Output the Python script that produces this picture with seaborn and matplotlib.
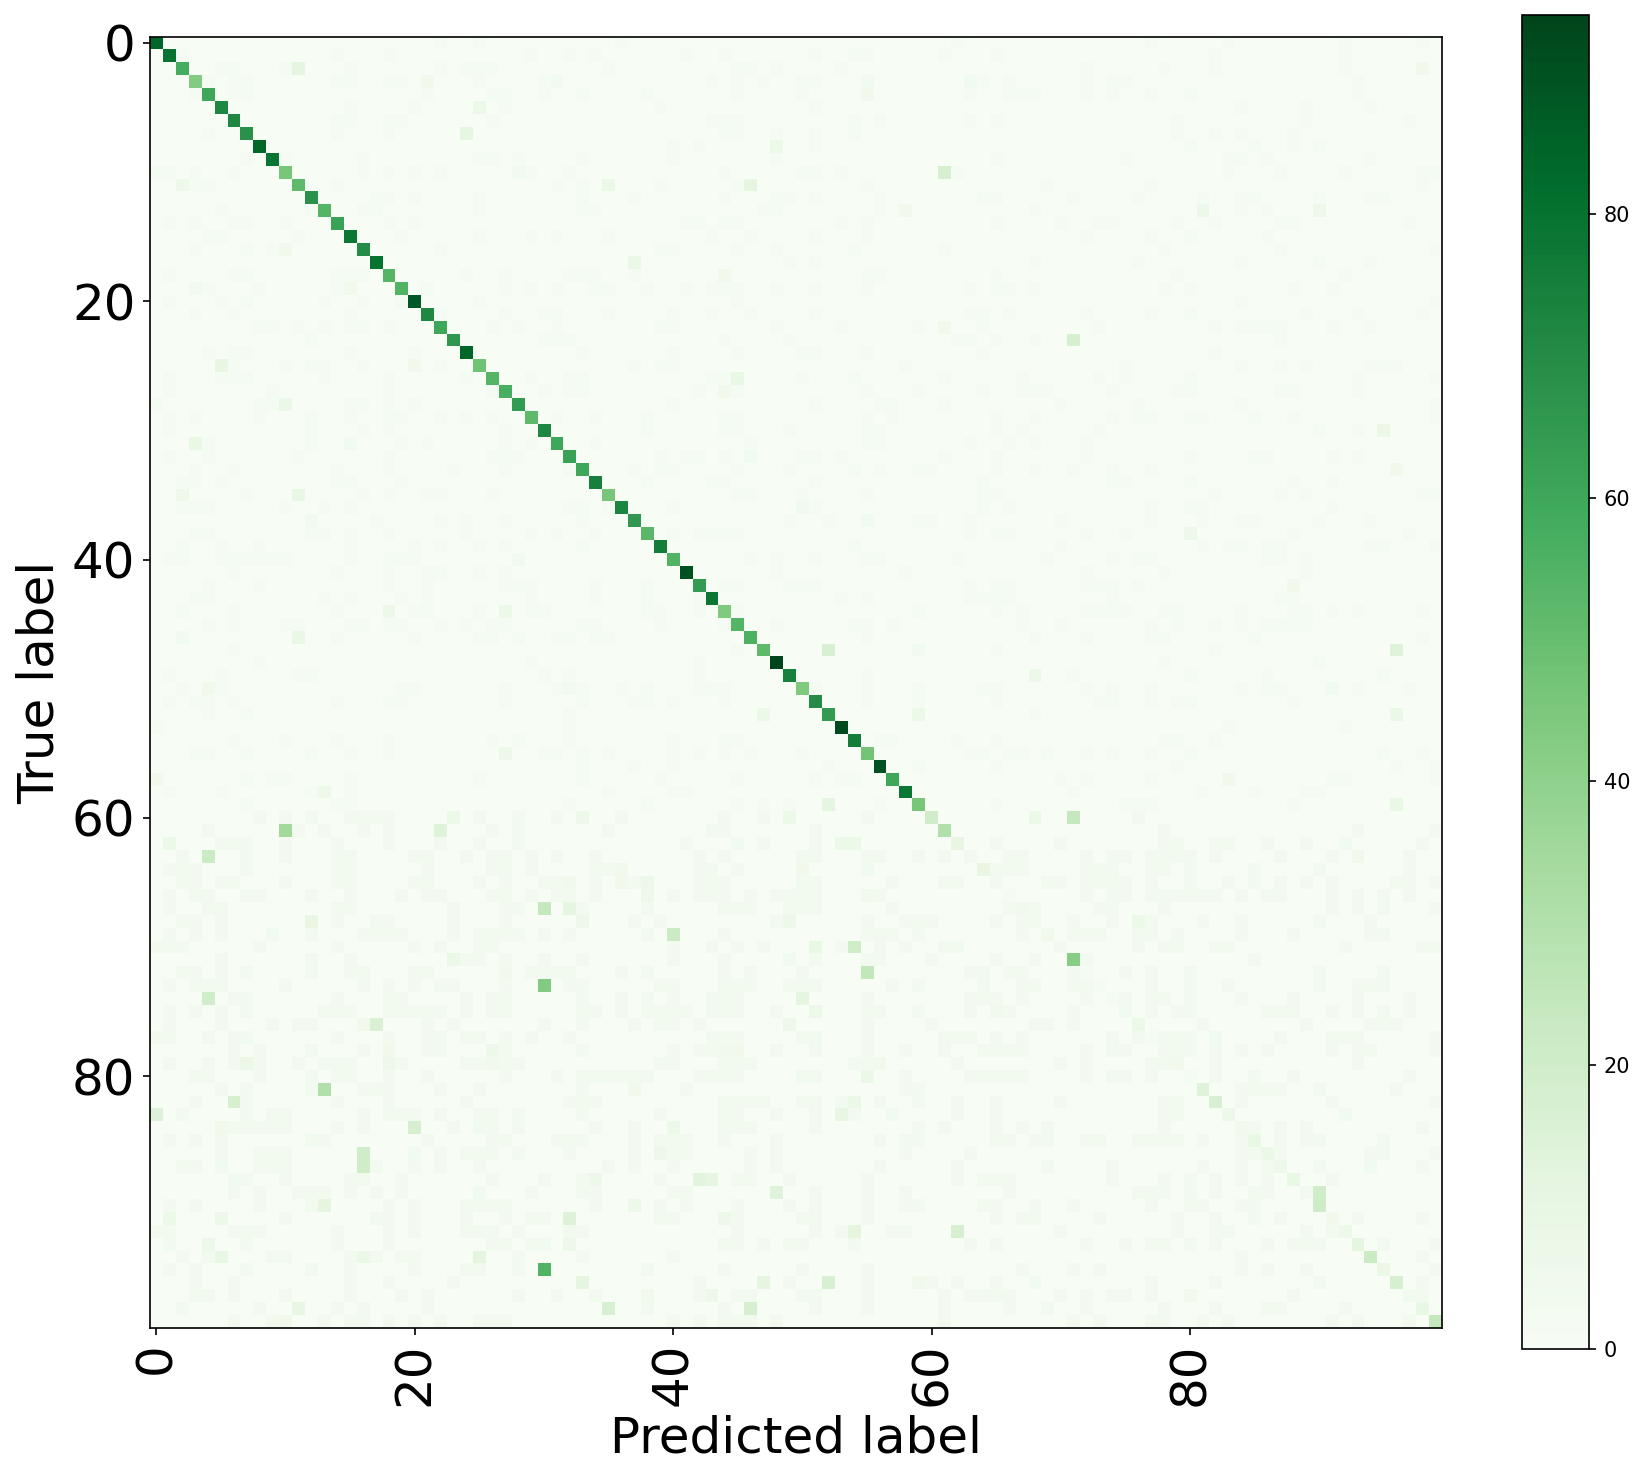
import numpy as np
import pandas as pd
import matplotlib
matplotlib.use("Agg")
import matplotlib.pyplot as plt
import seaborn as sns

N_CLASSES = 100
TICK_LABELS = [0, 20, 40, 60, 80]
CBAR_TICKS = [0, 20, 40, 60, 80]
MAX_COUNT = 94
FAINT_UPPER = 2
FAINT_LOWER = 3
LOWER_FROM_ROW = 60

# correct predictions, one per class
diagonal = [84, 80, 58, 43, 60, 72, 72, 68, 83, 79,
            46, 52, 68, 54, 62, 78, 70, 80, 54, 55,
            88, 72, 60, 66, 84, 48, 54, 57, 64, 52,
            72, 60, 62, 60, 75, 46, 73, 66, 53, 76,
            55, 90, 64, 78, 44, 54, 56, 52, 94, 74,
            44, 70, 64, 92, 76, 47, 90, 60, 78, 46,
            20, 30, 10, 3, 10, 3, 2, 5, 4, 5,
            3, 42, 2, 2, 2, 4, 7, 2, 3, 5,
            2, 14, 17, 6, 5, 9, 8, 6, 9, 3,
            21, 5, 6, 12, 22, 8, 18, 4, 9, 24]

# the clearly visible confusions
off_rows = [2, 3, 3, 5, 7, 10, 11, 16, 19, 19, 25, 25, 28, 31, 31,
            3, 3, 4, 8, 10, 11, 11, 13, 17, 18, 22, 26, 27, 32, 2, 13, 13, 23, 30, 33,
            35, 35, 37, 40, 44, 44, 46, 46, 50, 50, 55, 57, 58, 60, 60, 61, 61, 62, 63, 65,
            36, 37, 47, 47, 52, 52, 59, 60, 60, 62, 62, 62, 64, 64, 64, 65, 65, 65, 66, 66,
            38, 42, 47, 49, 50, 52, 57, 59, 60, 60, 62, 63,
            67, 67, 68, 69, 71, 72, 73, 74, 76, 76, 77, 78, 78, 79, 79, 79, 81, 81, 82, 83,
            84, 84, 84, 85, 86, 86, 87, 87, 88, 89, 90, 91, 91, 91, 93, 93, 93, 93, 94, 94, 94,
            95, 96, 97, 98, 99,
            68, 68, 69, 70, 70, 70, 71, 72, 73, 74, 75, 75, 76, 77, 78, 78, 79, 80, 80, 80,
            81, 82, 82, 83, 83, 84, 85, 86, 88, 88, 88, 89, 90, 91, 92, 92, 96, 96, 96, 97, 97,
            98, 98, 68, 77, 77, 83, 87, 96, 97, 89, 89]
off_cols = [11, 21, 31, 25, 24, 28, 2, 10, 3, 15, 5, 20, 10, 3, 15,
            55, 63, 55, 48, 61, 35, 46, 58, 37, 44, 61, 45, 44, 46, 98, 81, 90, 71, 95, 96,
            2, 11, 12, 28, 18, 27, 2, 11, 4, 32, 27, 0, 13, 23, 33, 10, 22, 1, 4, 32,
            50, 55, 52, 59, 47, 59, 52, 33, 49, 45, 53, 54, 36, 50, 55, 36, 38, 50, 38, 55,
            80, 88, 96, 68, 91, 96, 83, 96, 68, 71, 92, 93,
            30, 32, 12, 9, 23, 27, 30, 4, 16, 17, 7, 18, 26, 7, 18, 26, 12, 13, 6, 0,
            5, 20, 25, 12, 16, 20, 5, 16, 6, 25, 13, 1, 5, 32, 1, 4, 30, 32, 5, 16, 25,
            30, 33, 3, 11, 10,
            33, 49, 40, 51, 54, 62, 49, 55, 44, 50, 51, 65, 49, 51, 44, 45, 56, 34, 50, 55,
            37, 53, 54, 53, 57, 40, 58, 39, 34, 42, 43, 48, 37, 44, 54, 62, 47, 52, 59, 38, 43,
            35, 46, 76, 79, 82, 92, 94, 68, 80, 85, 90]
off_vals = [12, 5, 4, 7, 11, 4, 6, 5, 4, 5, 10, 5, 8, 9, 4,
            4, 4, 5, 7, 18, 8, 12, 5, 8, 5, 5, 9, 5, 4, 5, 6, 6, 18, 8, 5,
            6, 9, 4, 4, 6, 7, 4, 9, 5, 4, 6, 5, 6, 7, 6, 35, 14, 7, 22, 5,
            4, 4, 17, 4, 7, 7, 12, 6, 7, 4, 7, 7, 5, 5, 4, 5, 6, 4, 6, 5,
            6, 5, 14, 6, 4, 8, 5, 9, 7, 24, 4, 5,
            24, 12, 10, 4, 8, 5, 43, 20, 5, 16, 4, 5, 6, 8, 6, 5, 4, 30, 18, 15,
            5, 18, 4, 4, 20, 4, 4, 20, 4, 4, 12, 7, 6, 15, 4, 6, 4, 6, 9, 8, 12,
            55, 12, 4, 10, 5,
            6, 6, 22, 9, 20, 4, 4, 25, 4, 12, 7, 5, 6, 4, 5, 5, 5, 4, 4, 8,
            5, 4, 8, 10, 4, 6, 4, 6, 6, 13, 11, 14, 6, 6, 12, 18, 12, 17, 5, 5, 6,
            17, 18, 7, 4, 4, 4, 4, 4, 5, 4, 20]

# the pale background counts, row -> predicted classes
faint_cells = {
    0: [22, 25, 36, 62, 77, 83, 92, 98],
    1: [2, 14, 18, 29, 32, 34, 41, 44, 51, 54, 55, 61, 65, 82, 92],
    2: [5, 6, 10, 15, 22, 24, 25, 26, 35, 45, 46, 48, 53, 72, 78, 82, 92],
    3: [4, 6, 7, 14, 15, 18, 19, 25, 30, 43, 45, 47, 50, 51, 64, 66, 72, 74, 75, 93],
    4: [3, 6, 7, 21, 26, 27, 30, 33, 38, 45, 50, 63, 66, 67, 68, 72, 74, 77, 80, 93],
    5: [15, 20, 27, 39, 51, 84, 89, 94],
    6: [14, 15, 18, 19, 26, 43, 44, 45, 54, 56, 63, 65, 79, 89, 97],
    7: [4, 14, 18, 44, 45, 48, 51, 54, 79, 82, 84, 88],
    8: [40, 42, 51, 80, 85, 88, 90],
    9: [7, 10, 16, 25, 26, 28, 33, 40, 48, 65, 75, 83, 84, 86, 94],
    10: [0, 1, 3, 6, 16, 18, 20, 22, 29, 32, 44, 50, 51, 53, 62, 83, 87, 92, 98, 99],
    11: [3, 4, 14, 31, 33, 39, 45, 55, 69, 77, 98],
    12: [17, 18, 20, 25, 33, 37, 44, 48, 49, 51, 56, 64, 65, 71, 76, 81, 84, 85, 90, 94, 95],
    13: [5, 12, 16, 17, 25, 33, 34, 47, 48, 56, 68, 84, 86],
    14: [1, 3, 6, 7, 10, 18, 20, 41, 42, 44, 45, 53, 55, 65, 70, 73, 74, 79, 82, 87, 88, 97],
    15: [4, 5, 11, 19, 25, 29, 31, 35, 43, 46, 51, 55, 72, 77, 80, 86],
    16: [3, 7, 9, 22, 39, 40, 45, 48, 54, 61, 78, 87, 99],
    17: [49, 51, 68, 76, 84, 90, 94],
    18: [1, 6, 7, 14, 15, 16, 24, 27, 32, 33, 34, 37, 55, 56, 65, 79, 92],
    19: [4, 8, 14, 21, 27, 29, 31, 34, 35, 38, 41, 43, 44, 45, 48, 51, 55, 63, 65, 66, 68, 78, 80, 88, 91],
    20: [1, 5, 7, 13, 16, 19, 25, 45, 84, 99],
    21: [3, 6, 15, 22, 27, 30, 31, 35, 40, 43, 46, 51, 63, 64, 66, 72, 77, 80, 89, 93, 98],
    22: [8, 9, 11, 13, 15, 16, 18, 26, 28, 31, 39, 40, 48, 53, 59, 64, 73, 82, 84, 85, 86, 87, 91, 94],
    23: [12, 30, 31, 32, 44, 49, 62, 63, 65, 68, 87],
    24: [4, 6, 7, 15, 20, 33, 40, 45, 50, 51, 55, 64, 82],
    25: [6, 10, 12, 13, 16, 22, 37, 39, 40, 58, 75, 84, 87, 89, 94, 95, 96],
    26: [1, 5, 6, 7, 13, 18, 24, 29, 32, 33, 43, 44, 50, 54, 61, 67, 73, 75, 80, 93, 99],
    27: [1, 9, 18, 26, 30, 32, 33, 42, 45, 55, 59, 64, 67, 68, 69, 74, 79, 80, 87, 88, 93],
    28: [0, 8, 9, 15, 16, 18, 20, 40, 51, 56, 57, 61, 70, 76, 84, 99],
    29: [1, 3, 8, 12, 15, 18, 19, 22, 24, 26, 31, 34, 38, 44, 45, 55, 57, 65, 68, 74, 76, 77, 80, 81, 85, 88, 99],
    30: [1, 12, 16, 18, 27, 38, 44, 45, 49, 55, 56, 65, 67, 73, 90, 93],
    31: [4, 12, 19, 21, 27, 29, 34, 46, 55, 56, 63, 66, 68, 72],
    32: [1, 4, 11, 18, 26, 27, 28, 39, 41, 42, 44, 50, 51, 53, 61, 65, 72, 80, 85, 86, 91, 93],
    33: [3, 6, 14, 18, 23, 27, 32, 37, 39, 40, 45, 49, 54, 56, 59, 60, 65, 68, 71, 74, 77],
    34: [2, 3, 5, 14, 15, 19, 38, 43, 44, 51, 64, 74, 75, 80, 88, 91],
    35: [7, 16, 18, 21, 22, 26, 45, 46, 50, 55, 64, 65, 82, 87, 89, 98, 99],
    36: [2, 3, 4, 10, 13, 15, 32, 33, 35, 40, 51, 64, 66, 77, 80, 81, 91],
    37: [17, 22, 24, 27, 33, 49, 52, 59, 60, 63, 70, 77, 81, 84, 85, 90, 94],
    38: [3, 4, 12, 13, 15, 18, 24, 29, 31, 34, 40, 42, 43, 44, 45, 63, 65, 66, 72, 75, 88, 97],
    39: [2, 5, 8, 15, 20, 22, 25, 27, 33, 54, 70, 81, 83, 84, 86, 87, 94, 95, 99],
    40: [1, 2, 5, 6, 7, 8, 9, 10, 15, 18, 19, 20, 46, 48, 51, 55, 56, 62, 69, 74, 76, 77, 86, 87, 89],
    41: [6, 14, 18, 21, 22, 25, 27, 48, 58, 72, 78, 89],
    42: [4, 8, 18, 21, 27, 28, 29, 34, 38, 44, 45, 49, 50, 51, 63, 65, 66, 72, 73, 74, 76],
    43: [3, 4, 13, 15, 19, 21, 29, 34, 38, 42, 53, 55, 63, 64, 65, 66, 74, 87, 88],
    44: [2, 6, 14, 20, 21, 25, 29, 30, 38, 39, 42, 45, 59, 65, 67, 72, 73, 74, 75, 78, 79, 84, 88, 89, 91, 93, 98],
    45: [4, 6, 10, 11, 15, 16, 18, 19, 22, 24, 26, 27, 33, 34, 39, 44, 48, 54, 55, 57, 67, 70, 77, 79, 82, 84, 86, 87, 88, 89],
    46: [14, 20, 25, 26, 28, 31, 32, 34, 35, 55, 68, 72, 77, 78, 85, 98],
    47: [6, 45, 65, 82],
    48: [8, 29, 42, 78, 90],
    49: [1, 5, 11, 12, 30, 32, 42, 55, 71, 80, 86, 95],
    50: [2, 5, 19, 20, 27, 31, 33, 36, 38, 42, 43, 44, 51, 55, 59, 64, 65, 72, 74, 77, 84, 86, 87, 93, 97],
    51: [1, 3, 4, 6, 14, 18, 19, 27, 33, 37, 38, 40, 44, 55, 59, 65, 73, 74, 77, 79, 80, 88],
    52: [4, 7, 32, 68],
    53: [0, 32, 83, 92],
    54: [6, 10, 14, 18, 26, 28, 32, 40, 44, 45, 56, 57, 62, 65, 78, 79, 82],
    55: [3, 4, 7, 12, 15, 18, 30, 31, 33, 35, 40, 42, 44, 46, 50, 63, 64, 66, 67, 69, 72, 74, 77, 80, 95, 98],
    56: [33, 37, 40, 52, 59, 65, 79, 96, 99],
    57: [7, 9, 10, 15, 25, 33, 39, 45, 51, 53, 54, 70, 72, 77, 91, 92, 99],
    58: [1, 5, 12, 15, 35, 40, 41, 71, 81, 85, 89, 90],
    59: [7, 14, 15, 32, 38, 45, 47, 49, 56, 65, 75, 76, 77, 88],
    60: [8, 10, 12, 15, 16, 17, 18, 25, 28, 31, 36, 44, 47, 55, 76],
    61: [4, 11, 13, 16, 18, 26, 28, 35, 43, 44, 51, 78, 93, 99],
    62: [5, 6, 7, 10, 14, 18, 22, 25, 28, 41, 47, 51, 65, 70, 78, 79, 82, 83, 86, 89, 98],
    63: [2, 7, 10, 14, 15, 20, 21, 24, 26, 27, 29, 31, 34, 42, 44, 50, 51, 55, 56, 59, 61, 66, 67, 72, 74, 75, 77, 78, 79, 80, 82, 87, 91, 97],
    64: [1, 2, 3, 7, 14, 15, 21, 26, 27, 29, 34, 35, 42, 43, 45, 65, 66, 67, 72, 73, 74, 77, 78, 80, 85, 90, 97],
    65: [2, 3, 5, 6, 10, 14, 15, 20, 21, 25, 27, 30, 31, 34, 37, 42, 43, 44, 51, 57, 61, 62, 69, 70, 72, 73, 74, 75, 77, 80, 83, 85, 87, 89, 91, 96, 97, 99],
    66: [1, 3, 4, 7, 8, 12, 15, 19, 21, 22, 26, 27, 29, 31, 32, 34, 40, 42, 43, 44, 46, 48, 49, 50, 51, 56, 72, 74, 75, 77, 78, 79, 80, 81, 82, 84, 86, 87, 91, 93, 95, 97],
    67: [1, 4, 5, 14, 15, 23, 27, 28, 33, 38, 44, 45, 46, 49, 50, 51, 57, 66, 68, 73, 74, 78, 91, 93, 95, 99],
    68: [2, 3, 5, 14, 17, 18, 23, 27, 37, 39, 48, 55, 58, 59, 60, 65, 67, 71, 74, 77, 81, 84, 90, 94],
    69: [1, 3, 5, 12, 16, 17, 18, 19, 23, 25, 26, 27, 28, 30, 32, 38, 44, 55, 56, 57, 59, 67, 71, 72, 73, 76, 77, 79, 84, 88, 94, 95],
    70: [0, 1, 2, 8, 14, 20, 22, 25, 26, 40, 43, 45, 47, 53, 56, 58, 61, 76, 78, 79, 82, 83, 92, 98, 99],
    71: [5, 12, 15, 24, 25, 27, 30, 33, 40, 44, 51, 55, 56, 60, 65, 68, 72, 85],
    72: [2, 3, 5, 7, 12, 15, 16, 20, 21, 29, 30, 31, 32, 36, 38, 44, 46, 50, 63, 64, 66, 67, 71, 75, 77, 80, 90, 95],
    73: [1, 3, 4, 5, 10, 16, 18, 20, 22, 23, 27, 32, 33, 39, 40, 45, 46, 49, 50, 51, 57, 59, 64, 67, 68, 71, 72, 77, 80, 83, 90, 93, 94, 95],
    74: [6, 7, 14, 18, 19, 24, 26, 27, 33, 36, 38, 40, 43, 44, 45, 55, 63, 64, 65, 67, 72, 75, 77, 78, 80, 84, 88, 93, 97],
    75: [1, 3, 5, 7, 13, 14, 15, 18, 19, 20, 21, 22, 24, 26, 27, 33, 34, 36, 38, 39, 40, 41, 43, 44, 45, 48, 55, 56, 59, 63, 66, 71, 77, 79, 80, 86, 87, 88, 91, 93, 95, 97],
    76: [1, 5, 9, 11, 12, 21, 23, 30, 33, 37, 39, 40, 42, 55, 60, 68, 69, 71, 81, 89, 94, 95, 96],
    77: [0, 1, 4, 6, 14, 18, 21, 22, 24, 25, 27, 29, 32, 43, 44, 45, 50, 55, 61, 62, 63, 65, 67, 74, 76, 78, 80, 87, 91, 92, 93, 99],
    78: [6, 8, 12, 16, 21, 22, 27, 33, 40, 42, 43, 48, 51, 55, 58, 61, 64, 65, 66, 67, 72, 74, 75, 79, 80, 82, 84, 86, 91, 93, 94, 99],
    79: [1, 4, 6, 8, 11, 13, 14, 15, 19, 24, 25, 27, 28, 39, 40, 44, 45, 46, 54, 55, 62, 70, 72, 77, 78, 82, 93],
    80: [3, 4, 8, 12, 14, 15, 18, 21, 27, 31, 33, 35, 36, 37, 38, 42, 43, 44, 45, 51, 58, 63, 64, 65, 66, 67, 72, 74, 75, 77, 82, 85, 88, 97],
    81: [5, 7, 16, 17, 18, 22, 25, 33, 41, 58, 59, 84, 85, 86, 87, 90, 96],
    82: [3, 7, 14, 18, 24, 32, 33, 34, 44, 45, 46, 47, 50, 51, 56, 59, 62, 65, 70, 78, 79, 84, 91, 99],
    83: [2, 7, 9, 10, 16, 18, 19, 20, 22, 25, 26, 28, 33, 39, 44, 45, 48, 51, 54, 62, 65, 78, 79],
    84: [6, 7, 8, 9, 10, 14, 16, 23, 26, 28, 34, 37, 44, 45, 46, 51, 59, 61, 65, 67, 69, 78, 85, 87, 89, 98],
    85: [1, 3, 5, 13, 21, 26, 27, 31, 32, 33, 37, 39, 40, 41, 44, 48, 56, 59, 65, 66, 68, 69, 72, 73, 76, 77, 78, 79, 81, 84, 87, 89, 90, 95],
    86: [5, 8, 9, 10, 22, 24, 25, 26, 28, 32, 37, 40, 41, 46, 48, 58, 63, 84, 85, 87, 94, 95, 99],
    87: [2, 3, 8, 9, 10, 17, 20, 22, 25, 35, 37, 40, 46, 48, 56, 62, 69, 74, 81, 84, 86, 90, 98],
    88: [7, 10, 15, 16, 19, 26, 30, 33, 39, 45, 46, 49, 55, 62, 64, 65, 66, 74, 78, 80, 82, 84, 86, 91],
    89: [6, 8, 11, 12, 13, 15, 17, 19, 29, 33, 34, 40, 41, 51, 55, 58, 66, 76, 77, 78, 80, 82, 86],
    90: [1, 3, 8, 12, 18, 20, 24, 25, 26, 27, 34, 39, 41, 45, 49, 51, 55, 58, 59, 64, 65, 68, 71, 77, 80, 81, 84, 85],
    91: [10, 17, 18, 20, 24, 27, 29, 30, 39, 40, 45, 50, 51, 55, 65, 67, 68, 73, 79, 82, 85, 87, 93, 98],
    92: [0, 1, 6, 7, 8, 14, 18, 20, 24, 25, 26, 28, 32, 33, 45, 51, 53, 57, 58, 70, 79, 82, 83, 89, 91],
    93: [7, 14, 18, 26, 27, 29, 44, 45, 47, 49, 50, 54, 63, 65, 72, 75, 77, 78, 80, 82, 86, 88, 89, 90, 95, 99],
    94: [2, 4, 9, 10, 15, 17, 19, 20, 28, 33, 40, 84, 98],
    95: [1, 3, 7, 12, 15, 20, 24, 25, 28, 38, 44, 50, 55, 67, 71, 73, 84, 86, 89, 99],
    96: [3, 6, 15, 18, 23, 42, 49, 55, 60, 62, 65, 77, 82, 90, 98],
    97: [4, 6, 10, 15, 19, 21, 28, 31, 34, 42, 45, 46, 50, 51, 55, 61, 63, 64, 65, 66, 70, 72, 74, 75, 77, 88, 98],
    98: [2, 8, 14, 16, 21, 38, 44, 51, 55, 61, 66, 69, 72, 78, 82, 86, 87, 92],
    99: [6, 9, 13, 15, 16, 18, 20, 22, 25, 26, 27, 40, 42, 44, 45, 46, 48, 61, 71, 73, 77, 78, 81, 83, 91, 93, 97],
}

counts = np.zeros((N_CLASSES, N_CLASSES), dtype=int)
for row, cols in faint_cells.items():
    counts[row, cols] = FAINT_LOWER if row >= LOWER_FROM_ROW else FAINT_UPPER
counts[off_rows, off_cols] = off_vals
counts[np.arange(N_CLASSES), np.arange(N_CLASSES)] = diagonal
cm = pd.DataFrame(counts)

W, H = 1645, 1478
fig = plt.figure(figsize=(W / 150, H / 150), dpi=150)
ax = fig.add_axes([150 / W, 1 - 1328 / H, 1292 / W, 1291.5 / H])
cax = fig.add_axes([1522 / W, 1 - 1349 / H, 67 / W, 1334 / H])

sns.heatmap(cm, ax=ax, cbar_ax=cax, cmap="Greens", vmin=0, vmax=MAX_COUNT,
            xticklabels=False, yticklabels=False)

ticks = np.array(TICK_LABELS) + 0.5
ax.set_xticks(ticks, TICK_LABELS, rotation=90, fontsize=24)
ax.set_yticks(ticks, TICK_LABELS, rotation=0, fontsize=24)
ax.tick_params(length=3.5, width=0.8, left=True, bottom=True)
ax.set_xlabel("Predicted label", fontsize=24)
ax.set_ylabel("True label", fontsize=24)
for spine in ax.spines.values():
    spine.set_visible(True)
    spine.set_linewidth(0.8)

cbar = ax.collections[0].colorbar
cbar.set_ticks(CBAR_TICKS)
cbar.ax.tick_params(labelsize=10, length=3.5, width=0.8)
cbar.outline.set_visible(True)
cbar.outline.set_linewidth(0.8)

fig.savefig("out.png", dpi=150)
